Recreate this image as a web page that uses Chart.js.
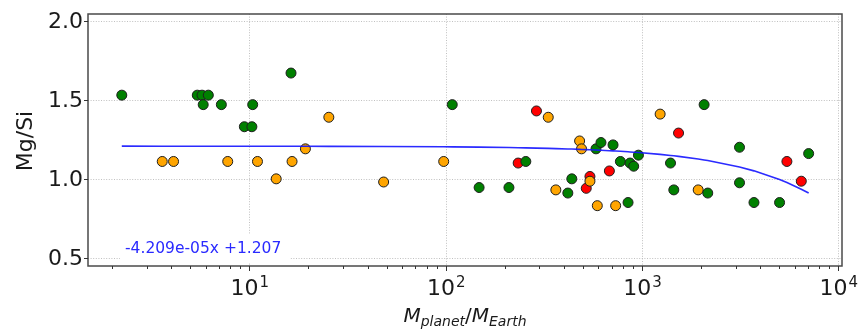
<!DOCTYPE html>
<html>
<head>
<meta charset="utf-8">
<script src="https://cdn.jsdelivr.net/npm/chart.js@4.4.1/dist/chart.umd.min.js"></script>
<style>
  html, body { margin: 0; padding: 0; background: #fff; }
  #wrap { width: 858px; height: 332px; }
</style>
</head>
<body>
<div id="wrap"><canvas id="mgsiChart"></canvas></div>
<script>
// planet mass (M_earth), Mg/Si ratio, and colour class of each star
const masses = [
  2.24, 5.43, 5.74, 6.18, 5.82, 7.2, 10.4, 9.43, 10.3, 16.3,
  3.6, 4.11, 7.76, 11.0, 13.7, 16.5, 19.3, 25.4, 48.3, 97.7,
  108, 148, 210, 234, 256, 290, 333, 364, 419, 439,
  481, 492, 520, 543, 543, 583, 592, 618, 682, 712,
  734, 776, 849, 869, 907, 959, 1237, 1397, 1452, 1535,
  1933, 2072, 2162, 3138, 3138, 3718, 5020, 5471, 6476, 7060
];
const mgsi = [
  1.53, 1.53, 1.53, 1.53, 1.47, 1.47, 1.47, 1.33, 1.33, 1.67,
  1.11, 1.11, 1.11, 1.11, 1.00, 1.11, 1.19, 1.39, 0.98, 1.11,
  1.47, 0.945, 0.945, 1.10, 1.11, 1.43, 1.39, 0.93, 0.91, 1.00,
  1.24, 1.19, 0.94, 1.015, 0.985, 1.19, 0.83, 1.23, 1.05, 1.215,
  0.83, 1.11, 0.85, 1.10, 1.08, 1.15, 1.41, 1.10, 0.93, 1.29,
  0.93, 1.47, 0.91, 1.20, 0.975, 0.85, 0.85, 1.11, 0.985, 1.16
];
const groups = [
  'g', 'g', 'g', 'g', 'g', 'g', 'g', 'g', 'g', 'g',
  'o', 'o', 'o', 'o', 'o', 'o', 'o', 'o', 'o', 'o',
  'g', 'g', 'g', 'r', 'g', 'r', 'o', 'o', 'g', 'g',
  'o', 'o', 'r', 'r', 'o', 'g', 'o', 'g', 'r', 'g',
  'o', 'g', 'g', 'g', 'g', 'g', 'o', 'g', 'g', 'r',
  'o', 'g', 'g', 'g', 'g', 'g', 'g', 'r', 'r', 'g'
];
const groupColors = { g: '#008000', o: '#ffa500', r: '#ff0000' };

// linear fit shown in the figure
const fitSlope = -4.209e-05;
const fitIntercept = 1.207;
const fitLabel = '-4.209e-05x +1.207';

const yTicks = [0.5, 1.0, 1.5, 2.0];
const xDecades = [1, 2, 3, 4];

const points = masses.map((m, i) => ({ x: m, y: mgsi[i] }));
const fitPoints = masses.slice().sort((a, b) => a - b)
  .map(m => ({ x: m, y: fitSlope * m + fitIntercept }));

const FONT = '"DejaVu Sans", sans-serif';

const axesPlugin = {
  id: 'axesPlugin',
  beforeDatasetsDraw(chart) {
    const { ctx, chartArea: a, scales: { x, y } } = chart;
    ctx.save();
    // dotted grid
    ctx.strokeStyle = '#b0b0b0';
    ctx.lineWidth = 0.8;
    ctx.setLineDash([1, 1.6]);
    yTicks.forEach(v => {
      const py = Math.round(y.getPixelForValue(v)) + 0.5;
      ctx.beginPath(); ctx.moveTo(a.left, py); ctx.lineTo(a.right, py); ctx.stroke();
    });
    xDecades.forEach(e => {
      const px = Math.round(x.getPixelForValue(Math.pow(10, e))) + 0.5;
      ctx.beginPath(); ctx.moveTo(px, a.top); ctx.lineTo(px, a.bottom); ctx.stroke();
    });
    ctx.setLineDash([]);
    // white box behind the fit label
    ctx.font = '15.5px ' + FONT;
    const tw = ctx.measureText(fitLabel).width;
    const tx = 125, ty = 253;
    ctx.fillStyle = '#ffffff';
    ctx.fillRect(tx - 5, 235, tw + 14, 27);
    ctx.fillStyle = '#2a2aff';
    ctx.textAlign = 'left';
    ctx.textBaseline = 'alphabetic';
    ctx.fillText(fitLabel, tx, ty);
    ctx.restore();
  },
  afterDraw(chart) {
    const { ctx, chartArea: a, scales: { x, y } } = chart;
    ctx.save();
    // frame
    ctx.strokeStyle = '#4a4a4a';
    ctx.lineWidth = 1.5;
    ctx.strokeRect(a.left, a.top, a.right - a.left, a.bottom - a.top);
    ctx.lineWidth = 1;
    ctx.strokeStyle = '#333';
    ctx.fillStyle = '#1a1a1a';
    // y ticks and labels
    ctx.font = '22px ' + FONT;
    ctx.textAlign = 'right';
    ctx.textBaseline = 'middle';
    yTicks.forEach(v => {
      const py = Math.round(y.getPixelForValue(v)) + 0.5;
      ctx.beginPath(); ctx.moveTo(a.left - 4, py); ctx.lineTo(a.left, py); ctx.stroke();
      ctx.fillText(v.toFixed(1), a.left - 5, py + 1);
    });
    // x minor/major ticks
    for (let e = 0; e <= 4; e++) {
      for (let s = 1; s <= 9; s++) {
        const v = s * Math.pow(10, e);
        if (v < x.min || v > x.max) continue;
        const px = Math.round(x.getPixelForValue(v)) + 0.5;
        const len = s === 1 ? 5 : 3;
        ctx.beginPath(); ctx.moveTo(px, a.bottom); ctx.lineTo(px, a.bottom + len); ctx.stroke();
      }
    }
    // x decade labels with superscript
    xDecades.forEach(e => {
      const px = x.getPixelForValue(Math.pow(10, e));
      ctx.font = '22px ' + FONT;
      const wb = ctx.measureText('10').width;
      ctx.font = '15px ' + FONT;
      const we = ctx.measureText(String(e)).width;
      const left = px - (wb + we) / 2;
      ctx.textAlign = 'left';
      ctx.textBaseline = 'alphabetic';
      ctx.font = '22px ' + FONT;
      ctx.fillText('10', left, 295);
      ctx.font = '15px ' + FONT;
      ctx.fillText(String(e), left + wb + 1, 287);
    });
    // y title
    ctx.save();
    ctx.translate(32, 141);
    ctx.rotate(-Math.PI / 2);
    ctx.font = '22px ' + FONT;
    ctx.textAlign = 'center';
    ctx.textBaseline = 'alphabetic';
    ctx.fillText('Mg/Si', 0, 0);
    ctx.restore();
    // x title: M_planet / M_Earth
    const parts = [
      { t: 'M', f: 'italic 20px ' + FONT, dy: 0 },
      { t: 'planet', f: 'italic 14px ' + FONT, dy: 4 },
      { t: '/', f: '20px ' + FONT, dy: 0 },
      { t: 'M', f: 'italic 20px ' + FONT, dy: 0 },
      { t: 'Earth', f: 'italic 14px ' + FONT, dy: 4 }
    ];
    let total = 0;
    parts.forEach(p => { ctx.font = p.f; p.w = ctx.measureText(p.t).width; total += p.w; });
    let cx = (a.left + a.right) / 2 - total / 2;
    ctx.textAlign = 'left';
    parts.forEach(p => {
      ctx.font = p.f;
      ctx.fillText(p.t, cx, 322 + p.dy);
      cx += p.w;
    });
    ctx.restore();
  }
};

const ctx = document.getElementById('mgsiChart').getContext('2d');
new Chart(ctx, {
  type: 'scatter',
  data: {
    datasets: [
      {
        type: 'line',
        data: fitPoints,
        borderColor: 'rgba(20,20,255,0.9)',
        borderWidth: 1.6,
        pointRadius: 0,
        fill: false,
        tension: 0,
        order: 0
      },
      {
        data: points,
        backgroundColor: groups.map(g => groupColors[g]),
        borderColor: '#1e1e1e',
        borderWidth: 1,
        pointRadius: 5,
        order: 1
      }
    ]
  },
  options: {
    responsive: true,
    maintainAspectRatio: false,
    animation: false,
    layout: { padding: { left: 0, right: 16, top: 14, bottom: 0 } },
    plugins: {
      legend: { display: false },
      tooltip: { enabled: false }
    },
    scales: {
      x: {
        type: 'logarithmic',
        min: 1.507,
        max: 10440,
        grid: { display: false },
        border: { display: false },
        ticks: { display: false },
        afterFit(scale) { scale.height = 66; }
      },
      y: {
        min: 0.448,
        max: 2.044,
        grid: { display: false },
        border: { display: false },
        ticks: { display: false },
        afterFit(scale) { scale.width = 88; }
      }
    }
  },
  plugins: [axesPlugin]
});
</script>
</body>
</html>
